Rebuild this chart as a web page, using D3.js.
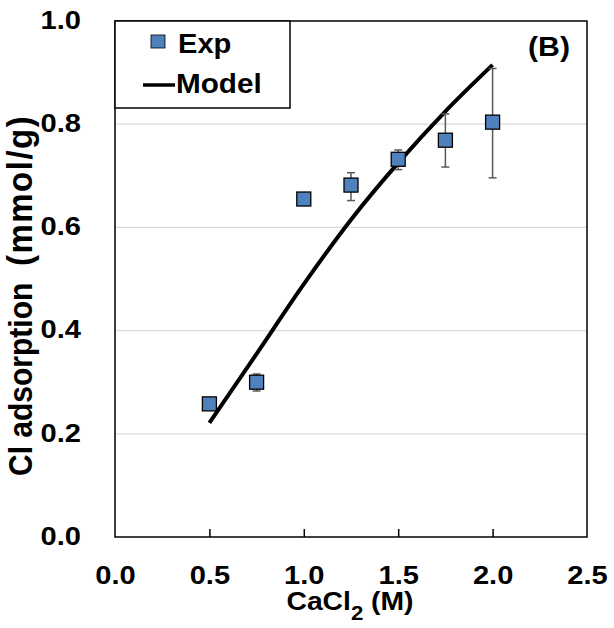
<!DOCTYPE html>
<html>
<head>
<meta charset="utf-8">
<script src="https://cdn.jsdelivr.net/npm/d3@7"></script>
<style>
  html, body { margin: 0; padding: 0; background: #fff; }
  text { font-family: "Liberation Sans", Arial, sans-serif; font-weight: bold; fill: #000; }
</style>
</head>
<body>
<svg id="chart" width="614" height="628"></svg>
<script>
// CaCl2 concentration (M) and measured Cl adsorption (mmol/g)
const expConc = [0.5, 0.75, 1.0, 1.25, 1.5, 1.75, 2.0];
const expValue = [0.258, 0.300, 0.655, 0.682, 0.732, 0.769, 0.804];
const expLow = [0.248, 0.283, 0.655, 0.652, 0.712, 0.717, 0.696];
const expHigh = [0.266, 0.316, 0.655, 0.706, 0.750, 0.820, 0.908];

// Model curve
const modelConc = [0.5, 0.75, 1.0, 1.25, 1.5, 1.75, 2.0];
const modelValue = [0.221, 0.355, 0.490, 0.615, 0.725, 0.825, 0.915];

const xTicks = [0.0, 0.5, 1.0, 1.5, 2.0, 2.5];
const yTicks = [0.0, 0.2, 0.4, 0.6, 0.8, 1.0];

const svg = d3.select("#chart");
const plotLeft = 115, plotRight = 587, plotTop = 21, plotBottom = 537;
const wide = 1.12; // horizontal widening of the bold labels

const x = d3.scaleLinear().domain([0, 2.5]).range([plotLeft, plotRight]);
const y = d3.scaleLinear().domain([0, 1.0]).range([plotBottom, plotTop]);

// horizontal gridlines
svg.append("g").selectAll("line")
  .data(yTicks.filter(v => v > 0 && v < 1))
  .join("line")
  .attr("x1", plotLeft).attr("x2", plotRight)
  .attr("y1", d => y(d)).attr("y2", d => y(d))
  .attr("stroke", "#d9d9d9").attr("stroke-width", 1.2);

// plot frame
svg.append("rect")
  .attr("x", plotLeft).attr("y", plotTop)
  .attr("width", plotRight - plotLeft).attr("height", plotBottom - plotTop)
  .attr("fill", "none").attr("stroke", "#000").attr("stroke-width", 1.5);

// x axis with inward ticks
const xAxis = d3.axisBottom(x).tickValues(xTicks).tickSizeInner(-8).tickSizeOuter(0)
  .tickFormat(d3.format(".1f"));
const gx = svg.append("g").attr("transform", `translate(0,${plotBottom})`).call(xAxis);
gx.select(".domain").remove();
gx.selectAll(".tick line").attr("stroke", "#000").attr("stroke-width", 1.5)
  .filter(d => d === 0 || d === 2.5).remove();
gx.selectAll(".tick text").attr("font-size", 26).attr("font-family", null).attr("fill", "#000")
  .attr("y", 47).attr("dy", null).attr("transform", `scale(${wide},1)`);

// y axis labels
const yAxis = d3.axisLeft(y).tickValues(yTicks).tickSize(0).tickFormat(d3.format(".1f"));
const gy = svg.append("g").attr("transform", `translate(${plotLeft},0)`).call(yAxis);
gy.select(".domain").remove();
gy.selectAll(".tick text").attr("font-size", 26).attr("font-family", null).attr("fill", "#000")
  .attr("x", -34 / wide).attr("dy", "0.28em").attr("transform", `scale(${wide},1)`);

// axis titles
const xt = svg.append("text").attr("transform", "translate(350,610) scale(1.11,1)")
  .attr("text-anchor", "middle").attr("font-size", 25.5);
xt.append("tspan").text("CaCl");
xt.append("tspan").text("2").attr("font-size", 20).attr("dy", 10);
xt.append("tspan").text(" (M)").attr("dy", -10);

const yt = svg.append("text")
  .attr("transform", "translate(32,476) rotate(-90) scale(1,1.08)")
  .attr("text-anchor", "start").attr("font-size", 30)
  .style("white-space", "pre");
yt.append("tspan").text("Cl adsorption  ");
yt.append("tspan").attr("font-size", 33).attr("letter-spacing", 1.5).text("(mmol/g)");

// model curve
const line = d3.line().x((d, i) => x(modelConc[i])).y(d => y(d)).curve(d3.curveMonotoneX);
svg.append("path").datum(modelValue)
  .attr("d", line).attr("fill", "none").attr("stroke", "#000").attr("stroke-width", 4);

// error bars
const eb = svg.append("g").attr("stroke", "#595959").attr("stroke-width", 1.5);
expConc.forEach((c, i) => {
  if (expHigh[i] - expLow[i] < 0.005) return;
  eb.append("line").attr("x1", x(c)).attr("x2", x(c)).attr("y1", y(expLow[i])).attr("y2", y(expHigh[i]));
  [expLow[i], expHigh[i]].forEach(v => {
    eb.append("line").attr("x1", x(c) - 4).attr("x2", x(c) + 4).attr("y1", y(v)).attr("y2", y(v));
  });
});

// experimental points
const sz = 14;
svg.append("g").selectAll("rect")
  .data(expValue)
  .join("rect")
  .attr("x", (d, i) => x(expConc[i]) - sz / 2)
  .attr("y", d => y(d) - sz / 2)
  .attr("width", sz).attr("height", sz)
  .attr("fill", "#4f81bd").attr("stroke", "#000").attr("stroke-width", 1.3);

// legend
const lg = svg.append("g");
lg.append("rect").attr("x", plotLeft).attr("y", plotTop).attr("width", 175).attr("height", 87)
  .attr("fill", "#fff").attr("stroke", "#000").attr("stroke-width", 1.5);
lg.append("rect").attr("x", 151).attr("y", 35).attr("width", 14).attr("height", 13)
  .attr("fill", "#4f81bd").attr("stroke", "#000").attr("stroke-width", 0.8);
lg.append("text").attr("transform", "translate(178,53) scale(1.04,1)").attr("font-size", 28).text("Exp");
lg.append("line").attr("x1", 143).attr("x2", 175).attr("y1", 85).attr("y2", 85)
  .attr("stroke", "#000").attr("stroke-width", 3.5);
lg.append("text").attr("transform", "translate(176,93) scale(1.06,1)").attr("font-size", 28).text("Model");

// panel label
svg.append("text").attr("transform", `translate(570,56) scale(${wide},1)`)
  .attr("text-anchor", "end").attr("font-size", 27).text("(B)");
</script>
</body>
</html>
